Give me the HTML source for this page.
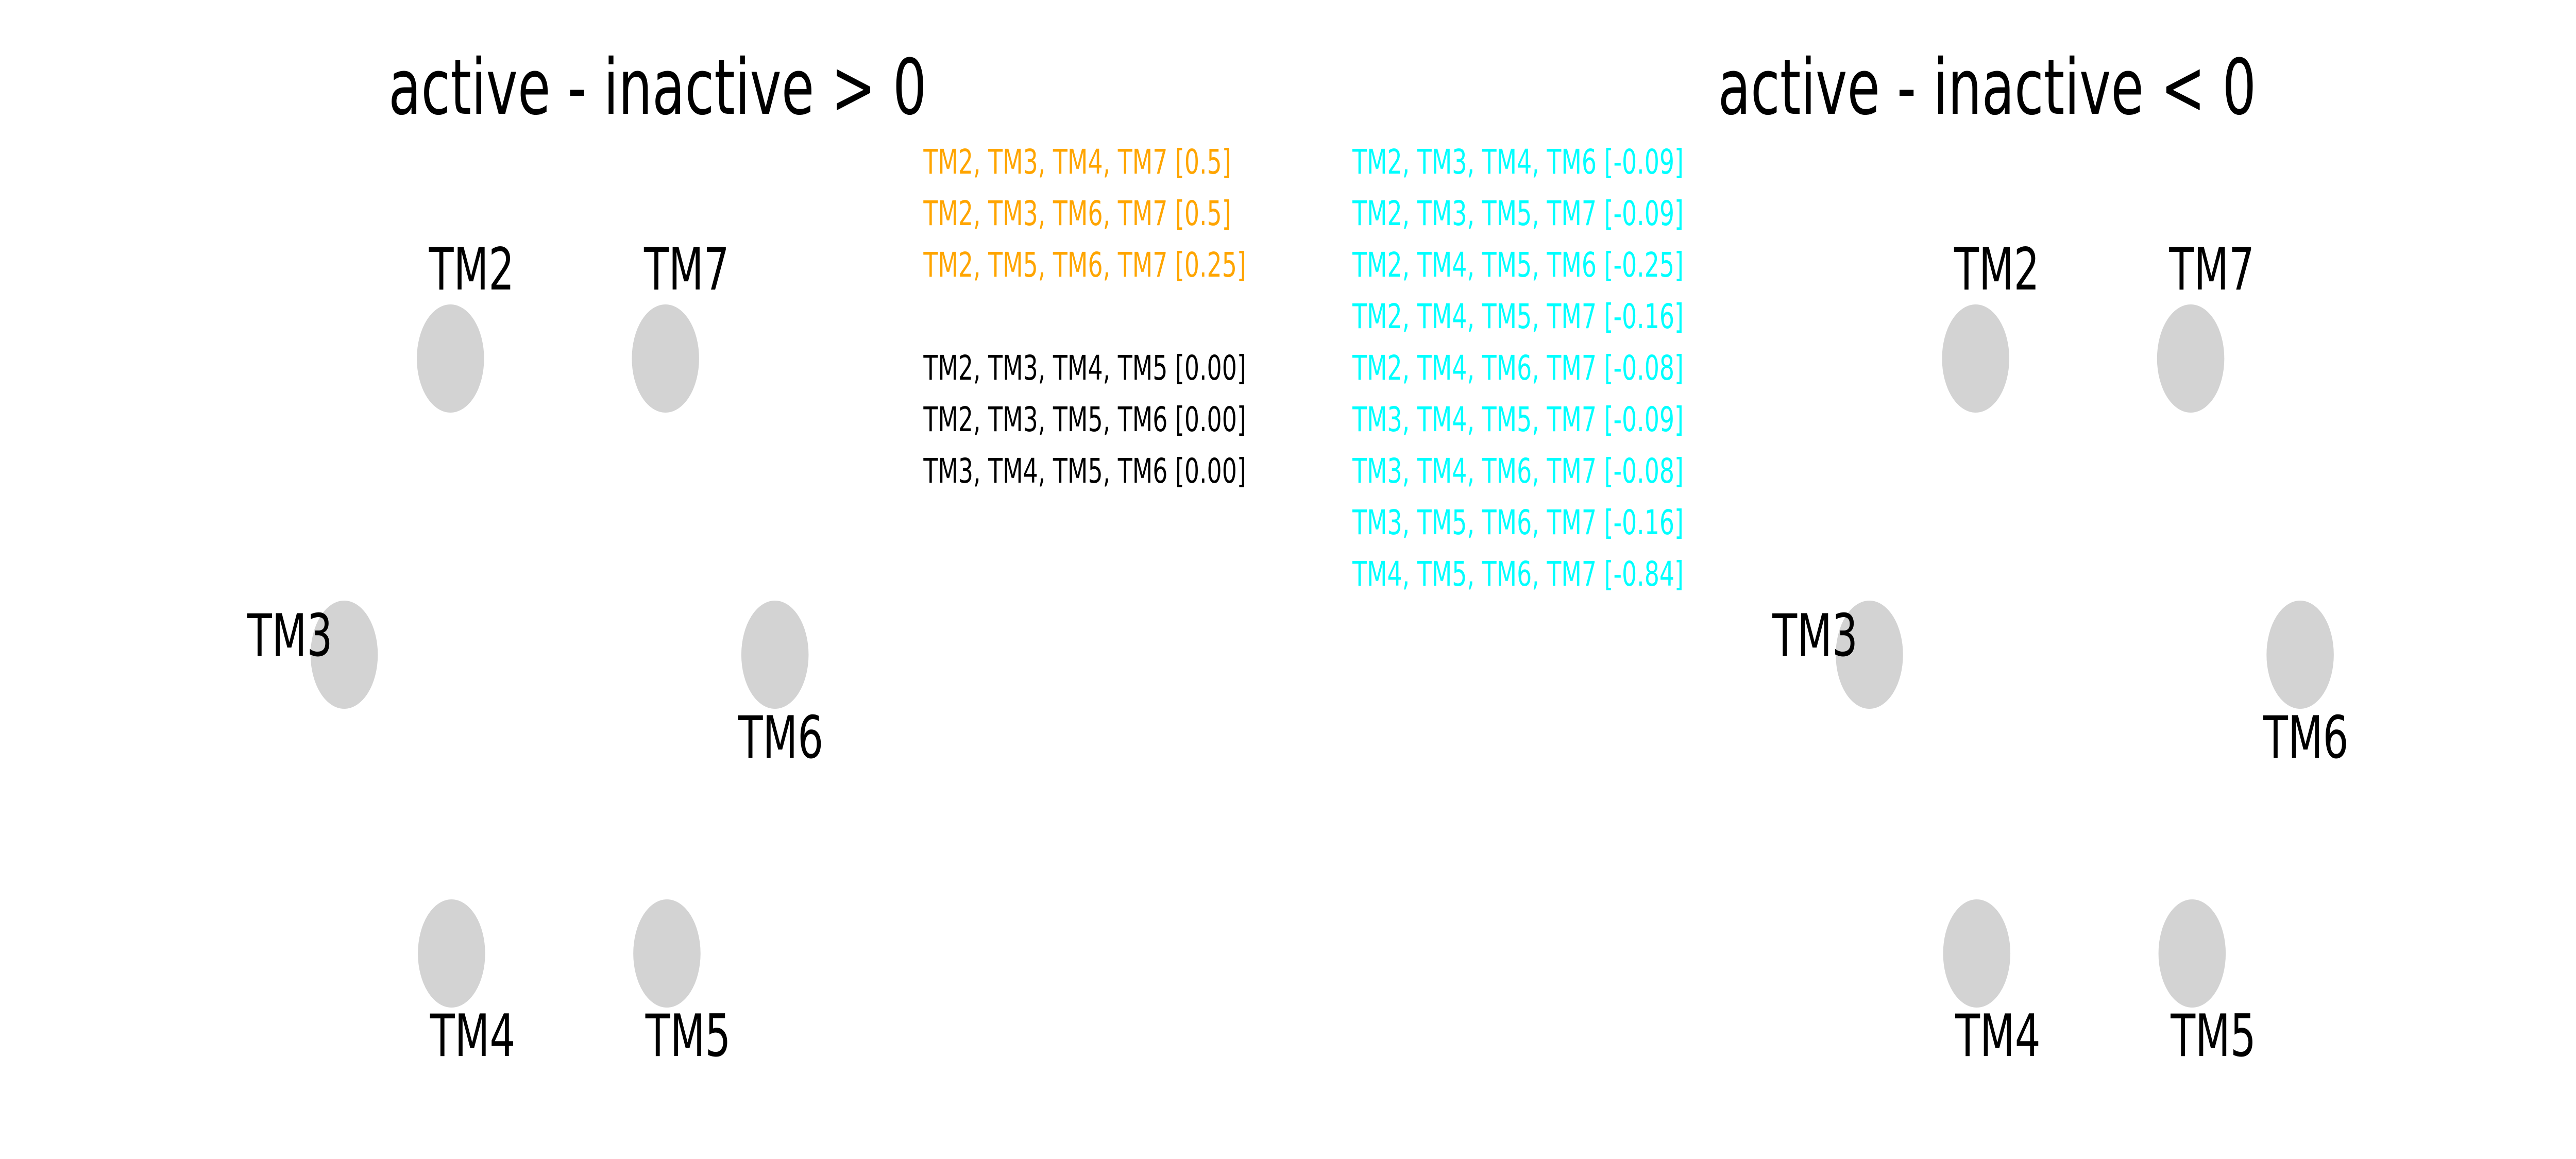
<!DOCTYPE html>
<html><head><meta charset="utf-8"><style>
html,body{margin:0;padding:0;background:#fff;width:100%;height:100%;overflow:hidden;}
svg{display:block;position:absolute;left:0;top:0;width:100vw;height:100vh;font-family:"DejaVu Sans","Liberation Sans",sans-serif;}
</style></head><body>
<svg id="fig" viewBox="0 0 7200 2250" preserveAspectRatio="none" xmlns="http://www.w3.org/2000/svg">
<rect width="7200" height="2250" fill="#fff"/>
<text x="1838" y="221" font-size="149" text-anchor="middle">active - inactive &gt; 0</text>
<text x="5554" y="221" font-size="149" text-anchor="middle">active - inactive &lt; 0</text>
<g id="lists"></g>
<g id="graphs"></g>
</svg>
<script>
const nodeNames = ["TM2","TM7","TM3","TM6","TM4","TM5"];
const nodeX = [1259, 1860, 962, 2166, 1262, 1864];
const nodeY = [696, 696, 1271, 1271, 1851, 1851];
const labelDX = [-60, -60, -271, -103, -60, -60];
const labelDY = [-134, -134, 2, 200, 199, 199];
const panelOffsets = [0, 4263];
const posLabels = ["TM2, TM3, TM4, TM7 [0.5]","TM2, TM3, TM6, TM7 [0.5]","TM2, TM5, TM6, TM7 [0.25]","","TM2, TM3, TM4, TM5 [0.00]","TM2, TM3, TM5, TM6 [0.00]","TM3, TM4, TM5, TM6 [0.00]"];
const posColors = ["#FFA500","#FFA500","#FFA500","","#000000","#000000","#000000"];
const negLabels = ["TM2, TM3, TM4, TM6 [-0.09]","TM2, TM3, TM5, TM7 [-0.09]","TM2, TM4, TM5, TM6 [-0.25]","TM2, TM4, TM5, TM7 [-0.16]","TM2, TM4, TM6, TM7 [-0.08]","TM3, TM4, TM5, TM7 [-0.09]","TM3, TM4, TM6, TM7 [-0.08]","TM3, TM5, TM6, TM7 [-0.16]","TM4, TM5, TM6, TM7 [-0.84]"];
const NS = "http://www.w3.org/2000/svg";
const lists = document.getElementById('lists');
const graphs = document.getElementById('graphs');
function addText(parent, x, y, s, fill, size){
  const t = document.createElementNS(NS,'text');
  t.setAttribute('x', x); t.setAttribute('y', y);
  t.setAttribute('font-size', size); t.setAttribute('fill', fill);
  t.textContent = s; parent.appendChild(t); return t;
}
posLabels.forEach((s,i)=>{
  if(!s) return;
  const t = addText(lists, 2581, 337 + i*100, s, posColors[i], 66);
  
  
});
negLabels.forEach((s,i)=>{
  const t = addText(lists, 3780, 337 + i*100, s, "#00FFFF", 66);
  
  
});
panelOffsets.forEach((off,p)=>{
  nodeNames.forEach((n,i)=>{
    const e = document.createElementNS(NS,'ellipse');
    e.setAttribute('cx', nodeX[i]+off); e.setAttribute('cy', nodeY[i]);
    e.setAttribute('rx', 94); e.setAttribute('ry', 105);
    e.setAttribute('fill', '#D3D3D3');
    
    
    graphs.appendChild(e);
  });
  nodeNames.forEach((n,i)=>{
    const t = addText(graphs, nodeX[i]+off+labelDX[i], nodeY[i]+labelDY[i], n, "#000", 113);
    
    
  });
});
</script>
</body></html>
